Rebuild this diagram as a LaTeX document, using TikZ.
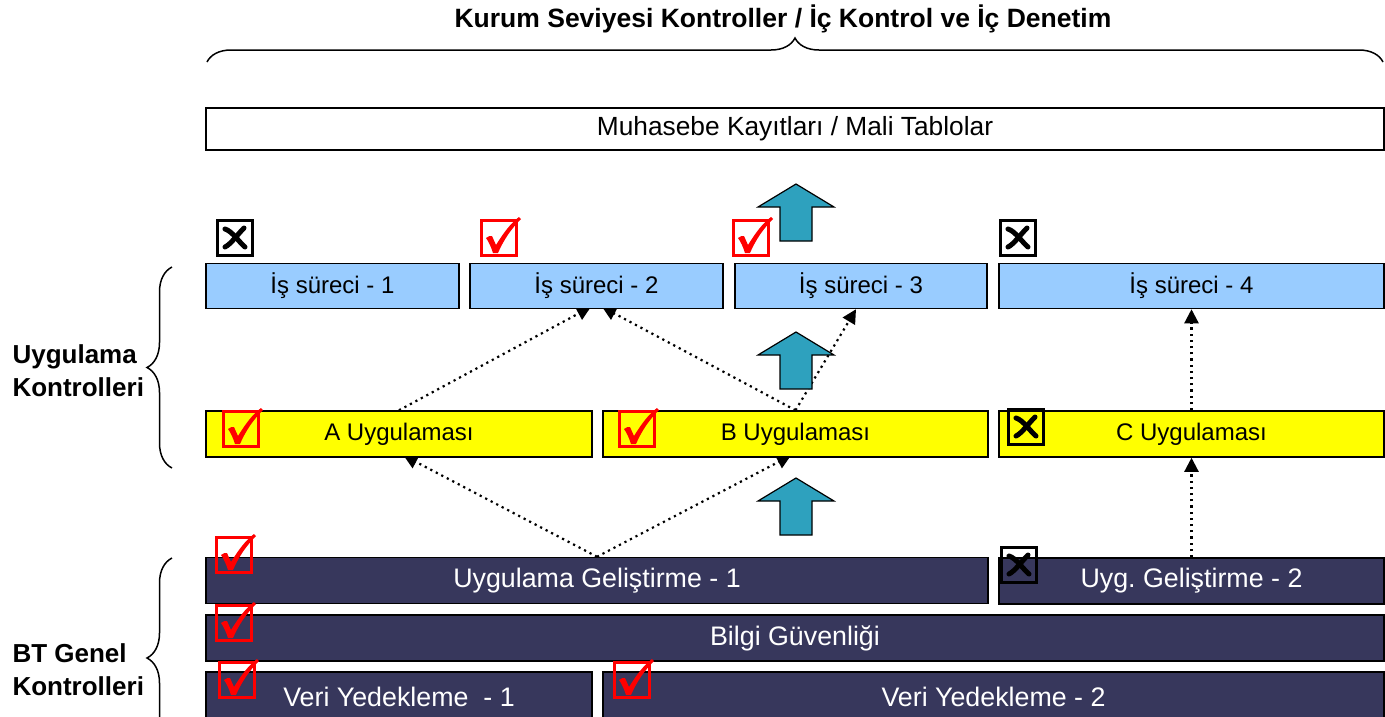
\documentclass[tikz,border=0pt]{standalone}
\usepackage{fontspec}
\setmainfont{Liberation Sans}
\usetikzlibrary{arrows.meta,decorations.pathreplacing,backgrounds}
\definecolor{surec}{RGB}{153,204,255}
\definecolor{uyg}{RGB}{255,255,0}
\definecolor{btgen}{RGB}{55,55,92}
\definecolor{okcol}{RGB}{46,161,190}

\begin{document}
\begin{tikzpicture}[x=1pt,y=-1pt,
  kutu/.style={draw=black,line width=1.5pt,inner sep=0pt,minimum height=45pt,
    font=\fontsize{24}{28}\selectfont},
  surecbox/.style={kutu,fill=surec},
  uygbox/.style={kutu,fill=uyg,minimum height=46pt},
  btbox/.style={kutu,fill=btgen,text=white,minimum height=46pt,
    font=\fontsize{26.8}{30}\selectfont},
  baslik/.style={font=\fontsize{26}{33}\selectfont\bfseries,align=left},
  nokta/.style={line width=2.2pt,dash pattern=on 2.2pt off 4pt,-{Triangle[length=14pt,width=14pt]}},
  kume/.style={decorate,decoration={brace,amplitude=24pt},line width=1.5pt},
  okbox/.pic={
    \draw[red,line width=3pt] (0,0) rectangle (35,35);
    \fill[red] (5,18) .. controls (8,16) .. (11,16) -- (15,25)
      .. controls (23,12) and (30,3) .. (38,-3) -- (40,-1)
      .. controls (31,8) and (23,19) .. (17,33) -- (12,33)
      .. controls (10,27) and (8,22) .. (5,18) -- cycle;},
  nobox/.pic={
    \draw[line width=3pt] (0,0) rectangle (35,35);
    \draw[line width=5pt,line cap=round] (8,9) .. controls (15,11) and (22,22) .. (28,27);
    \draw[line width=5pt,line cap=round] (27,8) .. controls (20,15) and (14,24) .. (8,27);},
  yukari/.pic={
    \draw[fill=okcol,line width=1.2pt] (-16,0) -- (-16,-34) -- (-38,-34) -- (0,-57)
      -- (38,-34) -- (16,-34) -- (16,0) -- cycle;}]
\useasboundingbox (0,0) rectangle (1385,716);

\node (title) [baslik,font=\fontsize{26.5}{33}\selectfont\bfseries] at (783,19) {Kurum Seviyesi Kontroller / İç Kontrol ve İç Denetim};
\draw[kume] (207,62) -- (1383,62);

\node (muh) [kutu,minimum width=1178pt,minimum height=42pt,font=\fontsize{26.3}{30}\selectfont] at (795,129) {Muhasebe Kayıtları / Mali Tablolar};

\node (is1) [surecbox,minimum width=253pt] at (332.5,286) {İş süreci - 1};
\node (is2) [surecbox,minimum width=253pt] at (596.5,286) {İş süreci - 2};
\node (is3) [surecbox,minimum width=252pt] at (861,286) {İş süreci - 3};
\node (is4) [surecbox,minimum width=385pt] at (1191.5,286) {İş süreci - 4};

\node (appA) [uygbox,minimum width=386pt] at (399,434) {A Uygulaması};
\node (appB) [uygbox,minimum width=385pt] at (795.5,434) {B Uygulaması};
\node (appC) [uygbox,minimum width=385pt] at (1191.5,434) {C Uygulaması};

\node (ug1) [btbox,minimum width=782pt] at (597,580.5) {Uygulama Geliştirme - 1};
\node (ug2) [btbox,minimum width=385pt] at (1191.5,581) {Uyg.\ Geliştirme - 2};
\node (bilgi) [btbox,minimum width=1178pt] at (795,638) {Bilgi Güvenliği};
\node (veri1) [btbox,minimum width=386pt,minimum height=50pt] at (399,697) {Veri Yedekleme~~- 1};
\node (veri2) [btbox,minimum width=781pt,minimum height=50pt] at (993.5,697) {Veri Yedekleme - 2};

\begin{scope}[on background layer]
\draw[nokta,shorten >=-5pt] (appA.north) -- ([xshift=-10pt]is2.south);
\draw[nokta,shorten >=-5pt] (appB.north) -- ([xshift=10pt]is2.south);
\draw[nokta,shorten >=-5pt] (ug1.north) -- ([xshift=9pt]appA.south);
\draw[nokta,shorten >=-5pt] (ug1.north) -- ([xshift=-9pt]appB.south);
\end{scope}
\draw[nokta] (appB.north) -- ([xshift=-5pt]is3.south);
\draw[nokta] (appC.north) -- (is4.south);
\draw[nokta] (ug2.north) -- (appC.south);

\pic at (796,241) {yukari};
\pic at (796,389) {yukari};
\pic at (796,535) {yukari};

\pic at (217,220) {nobox};
\pic at (481,220) {okbox};
\pic at (733,220) {okbox};
\pic at (1000,220) {nobox};
\pic at (223,411) {okbox};
\pic at (619,411) {okbox};
\pic at (1008,409) {nobox};
\pic at (216,537) {okbox};
\pic at (1001,547) {nobox};
\pic at (216,605) {okbox};
\pic at (219,662) {okbox};
\pic at (614,662) {okbox};

\draw[kume,decoration={amplitude=25pt}] (172,468) -- (172,267);
\draw[kume,decoration={amplitude=25pt}] (172,758) -- (172,558);
\node (ukont) [baslik,anchor=west] at (9,371) {Uygulama\\Kontrolleri};
\node (btkont) [baslik,anchor=west] at (9,670) {BT Genel\\Kontrolleri};
\end{tikzpicture}
\end{document}
